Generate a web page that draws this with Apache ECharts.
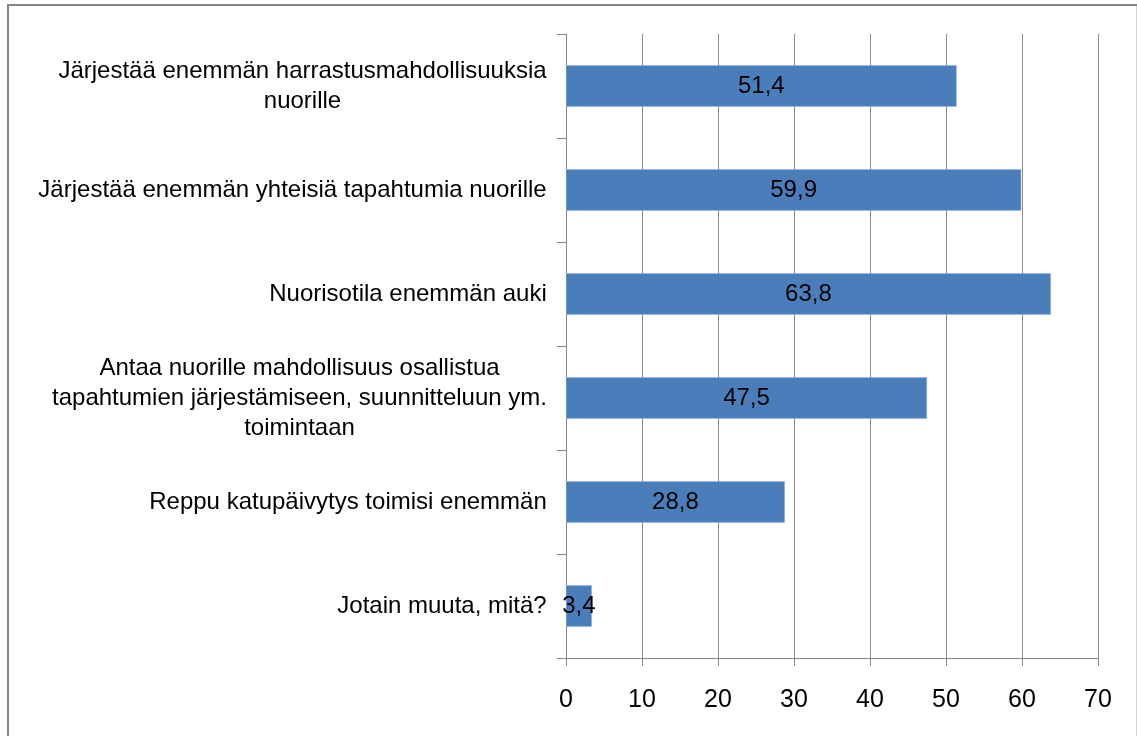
<!DOCTYPE html>
<html>
<head>
<meta charset="utf-8">
<script src="https://cdn.jsdelivr.net/npm/echarts@6/dist/echarts.min.js"></script>
<style>
  html, body { margin: 0; padding: 0; background: #fff; }
  #chart { width: 1137px; height: 736px; }
</style>
</head>
<body>
<div id="chart"></div>
<script>
// kategoriat ylhäältä alas
var categories = [
  'Järjestää enemmän harrastusmahdollisuuksia\nnuorille',
  'Järjestää enemmän yhteisiä tapahtumia nuorille',
  'Nuorisotila enemmän auki',
  'Antaa nuorille mahdollisuus osallistua\ntapahtumien järjestämiseen, suunnitteluun ym.\ntoimintaan',
  'Reppu katupäivytys toimisi enemmän',
  'Jotain muuta, mitä?'
]
var values = [51.4, 59.9, 63.8, 47.5, 28.8, 3.4]
var xTicks = [0, 10, 20, 30, 40, 50, 60, 70]

var FONT = '"Liberation Sans", Arial, sans-serif'
var FS = 24

// mitataan rivien leveys, jotta monirivinen teksti keskitetään lohkon sisällä
var ctx = document.createElement('canvas').getContext('2d')
ctx.font = FS + 'px ' + FONT
var rich = {}
categories.forEach(function (c, i) {
  var w = 0
  c.split('\n').forEach(function (line) {
    w = Math.max(w, ctx.measureText(line).width)
  })
  rich['l' + i] = {
    width: Math.ceil(w) + 2,
    align: 'center',
    fontSize: FS,
    fontFamily: FONT,
    color: '#000',
    lineHeight: 30
  }
})

var myChart = echarts.init(document.getElementById('chart'))
myChart.setOption({
  animation: false,
  grid: { left: 566, right: 39, top: 34, bottom: 78, containLabel: false },
  graphic: [
    { type: 'line', shape: { x1: 7, y1: 5, x2: 1137, y2: 5 }, style: { stroke: '#858585', lineWidth: 2 } },
    { type: 'line', shape: { x1: 8, y1: 4, x2: 8, y2: 736 }, style: { stroke: '#858585', lineWidth: 2 } },
    { type: 'line', shape: { x1: 1136.5, y1: 6, x2: 1136.5, y2: 736 }, style: { stroke: '#d4d4d4', lineWidth: 1 } }
  ],
  xAxis: {
    type: 'value',
    min: xTicks[0],
    max: xTicks[xTicks.length - 1],
    interval: 10,
    axisLine: { show: true, lineStyle: { color: '#868686', width: 1 } },
    axisTick: { show: true, length: 8, lineStyle: { color: '#868686' } },
    splitLine: { show: true, lineStyle: { color: '#8c8c8c', width: 1 } },
    axisLabel: { color: '#000', fontSize: 25, fontFamily: FONT, margin: 30 }
  },
  yAxis: {
    type: 'category',
    inverse: true,
    data: categories,
    axisLine: { show: true, lineStyle: { color: '#868686', width: 1 } },
    axisTick: { show: true, length: 9, lineStyle: { color: '#868686' } },
    splitLine: { show: false },
    axisLabel: {
      margin: 18,
      rich: rich,
      formatter: function (value, index) {
        return value.split('\n').map(function (line) {
          return '{l' + index + '|' + line + '}'
        }).join('\n')
      }
    }
  },
  series: [
    {
      type: 'bar',
      data: values,
      barCategoryGap: '60%',
      itemStyle: { color: '#4a7ebb', borderColor: '#9db8dc', borderWidth: 0.5 },
      label: {
        show: true,
        position: 'inside',
        color: '#000',
        fontSize: FS,
        fontFamily: FONT,
        formatter: function (p) {
          return String(p.value).replace('.', ',')
        }
      }
    }
  ]
})
</script>
</body>
</html>
